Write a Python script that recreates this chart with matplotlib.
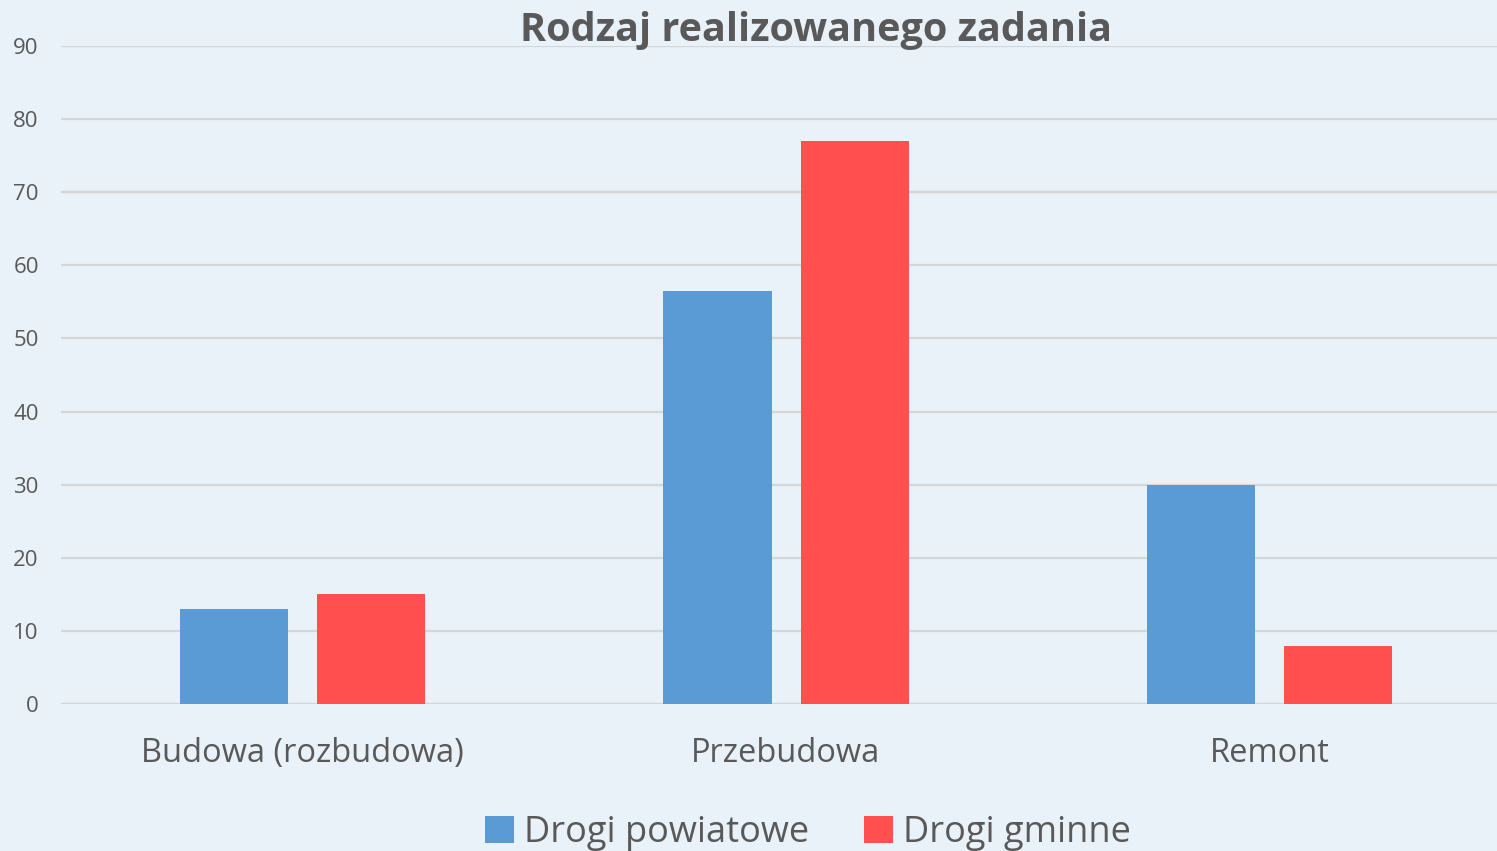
import matplotlib.pyplot as plt
import numpy as np

categories = ["Budowa (rozbudowa)", "Przebudowa", "Remont"]
powiatowe = [13, 56.5, 30]
gminne = [15, 77, 8]
series_names = ["Drogi powiatowe", "Drogi gminne"]
yticks = [0, 10, 20, 30, 40, 50, 60, 70, 80, 90]

plt.rcParams["font.family"] = ["Open Sans", "DejaVu Sans"]
text_color = "#595959"

fig = plt.figure(figsize=(14.97, 8.51), dpi=100)
fig.patch.set_facecolor("#E9F1F9")
ax = fig.add_axes([61 / 1497, 147 / 851, 1450 / 1497, 658 / 851])
ax.set_facecolor("none")

x = np.arange(len(categories))
w = 0.224
off = 0.142
ax.bar(x - off, powiatowe, w, color="#5B9BD5", label=series_names[0], zorder=3)
ax.bar(x + off, gminne, w, color="#FF4F4F", label=series_names[1], zorder=3)

ax.set_xlim(-0.5, 2.5)
ax.set_ylim(0, 90)
ax.set_yticks(yticks)
ax.set_xticks(x)
ax.set_xticklabels(categories, fontsize=23.5, color=text_color)
ax.tick_params(axis="y", labelsize=16, labelcolor=text_color, length=0, pad=16)
ax.tick_params(axis="x", length=0, pad=24)
ax.grid(axis="y", color="#D6D6D6", lw=1.6, zorder=0)
for s in ax.spines.values():
    s.set_visible(False)

fig.text(816 / 1497, 1 - 30 / 851, "Rodzaj realizowanego zadania",
         fontsize=28.5, fontweight="bold", color=text_color, ha="center", va="center")

leg = fig.legend(loc="center", bbox_to_anchor=(808 / 1497, 1 - 833 / 851), ncol=2,
                 frameon=False, fontsize=26, handlelength=0.8, handleheight=0.8,
                 handletextpad=0.3, columnspacing=1.5)
for t in leg.get_texts():
    t.set_color(text_color)

fig.savefig("out.png", dpi=100, facecolor=fig.get_facecolor())
